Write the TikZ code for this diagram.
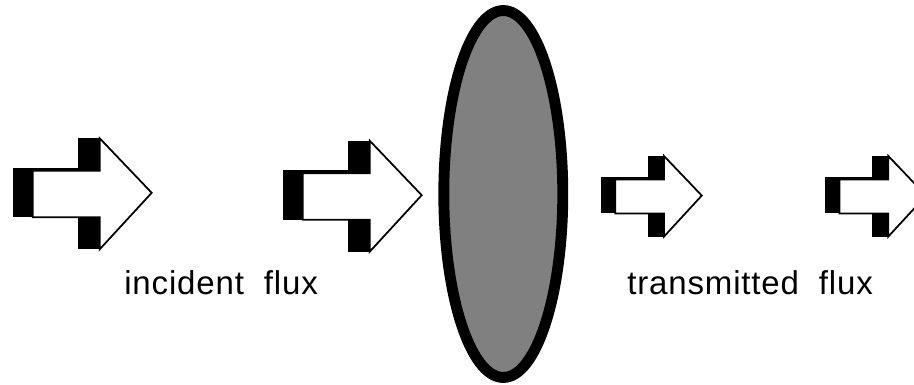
\documentclass[tikz,border=0pt]{standalone}
\usepackage{fontspec}
\usetikzlibrary{shapes.geometric}
\newfontfamily\labelfont[LetterSpace=2.5]{Liberation Sans}

\tikzset{
    pics/fluxarrow/.style={code={
        \fill[black] (0,-26) rectangle (20,23.5);
        \fill[black] (20,-26) rectangle (66,-22);
        \filldraw[fill=white, draw=black, line width=1pt, line join=miter]
            (20,-23) -- (87,-23) -- (87,-55.5) -- (139,-1) -- (87,55.5) -- (87,23.5) -- (20,23.5) -- cycle;
        \fill[black] (65,-55.5) rectangle (87,-23);
        \fill[black] (65,23.5) rectangle (87,55.5);
    }}
}

\begin{document}
\begin{tikzpicture}[
    x=0.02cm, y=-0.02cm,
    lens/.style={
        ellipse,
        draw=black,
        line width=6.2pt,
        fill=gray,
        minimum width=2.38cm,
        minimum height=7.34cm,
        inner sep=0pt
    },
    lbl/.style={anchor=base west, inner sep=0pt, font=\labelfont\fontsize{18.8}{22}\selectfont}
]
\useasboundingbox (0,0) rectangle (914,385);
\clip (0,0) rectangle (914,385);

% incident side
\pic (in1) at (12.7,193.8) {fluxarrow};
\pic (in2) at (282.7,196.2) {fluxarrow};
\node[lbl] (inc) at (124,295) {incident\ \ flux};

% sample
\node[lens] (sample) at (503.3,194) {};

% transmitted side
\pic[scale=0.727] (out1) at (600.7,196.3) {fluxarrow};
\pic[scale=0.727] (out2) at (825,196.3) {fluxarrow};
\node[lbl] (trans) at (627,295) {transmitted\ \ flux};

\end{tikzpicture}
\end{document}
